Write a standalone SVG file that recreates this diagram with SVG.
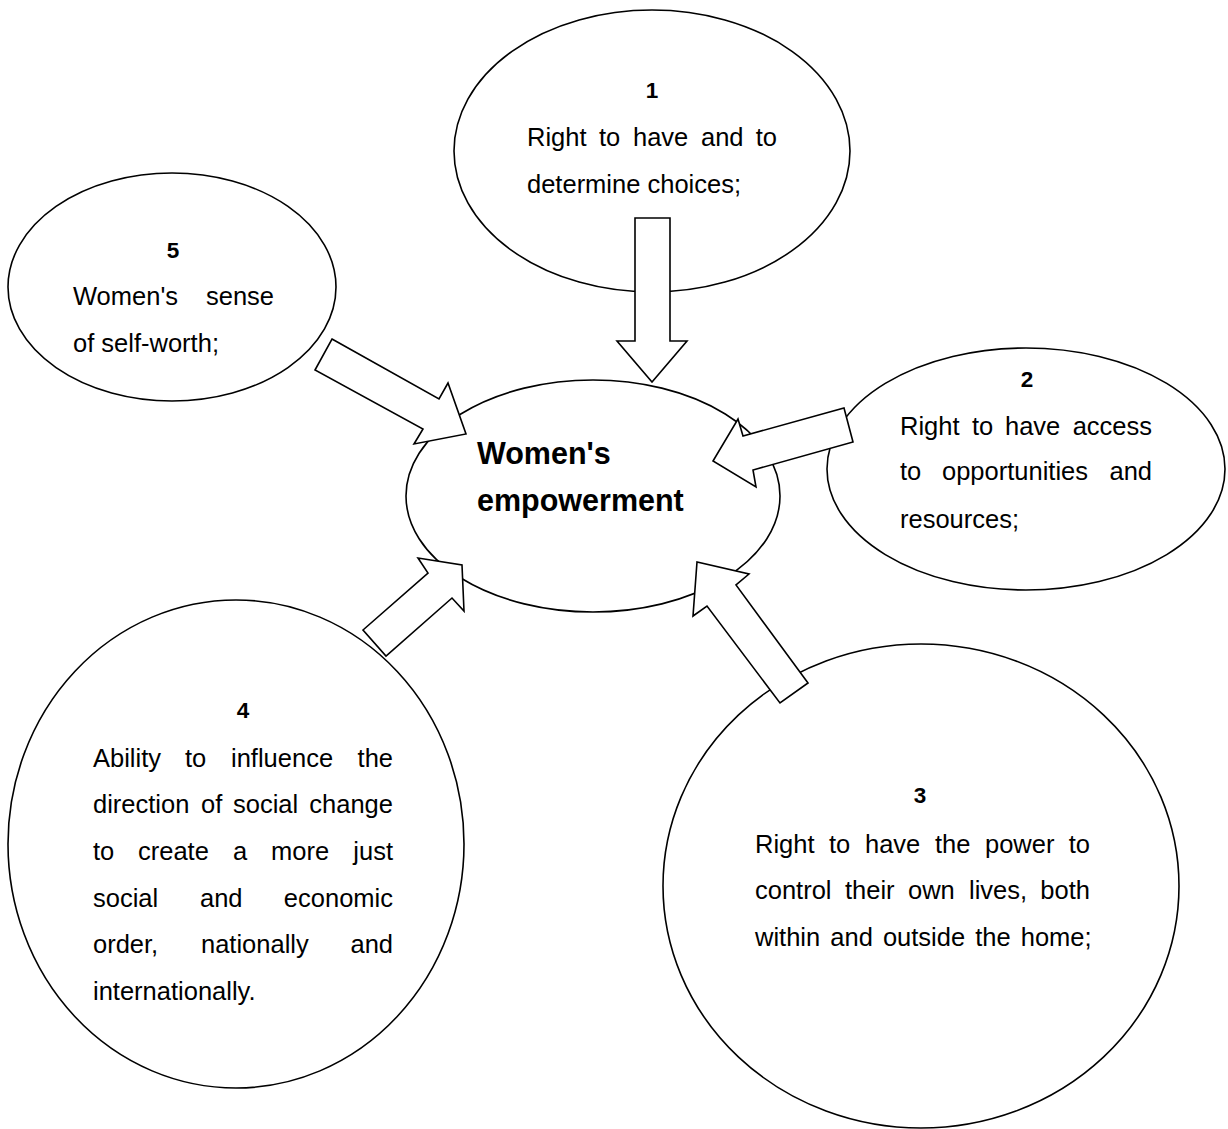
<svg xmlns="http://www.w3.org/2000/svg" width="1228" height="1129" viewBox="0 0 1228 1129">
<style>
.n{fill:#fff;stroke:#000;stroke-width:1.6}
.a{fill:#fff;stroke:#000;stroke-width:1.6;stroke-linejoin:miter}
text{font-family:"Liberation Sans",Arial,sans-serif;fill:#000}
.t{font-size:25.5px}
.h{font-size:22.5px;font-weight:bold;text-anchor:middle}
.c{font-size:30.5px;font-weight:bold}
</style>
<rect width="1228" height="1129" fill="#fff"/>
<g id="node-center">
<ellipse class="n" cx="593" cy="496" rx="187" ry="116"/>
<text class="c" x="477" y="464">Women's</text>
<text class="c" x="477" y="511">empowerment</text>
</g>
<g id="node-1">
<ellipse class="n" cx="652" cy="151" rx="198" ry="141"/>
<text class="h" x="652" y="98">1</text>
<text class="t" y="146"><tspan x="527">Right</tspan><tspan x="599">to</tspan><tspan x="633">have</tspan><tspan x="701">and</tspan><tspan x="777" text-anchor="end">to</tspan></text>
<text class="t" x="527" y="193">determine choices;</text>
</g>
<g id="node-5">
<ellipse class="n" cx="172" cy="287" rx="164" ry="114"/>
<text class="h" x="173" y="258">5</text>
<text class="t" y="305"><tspan x="73">Women's</tspan><tspan x="274" text-anchor="end">sense</tspan></text>
<text class="t" x="73" y="352">of self-worth;</text>
</g>
<g id="node-2">
<ellipse class="n" cx="1026" cy="469" rx="199" ry="121"/>
<text class="h" x="1027" y="387">2</text>
<text class="t" y="435"><tspan x="900">Right</tspan><tspan x="972">to</tspan><tspan x="1005">have</tspan><tspan x="1152" text-anchor="end">access</tspan></text>
<text class="t" y="480"><tspan x="900">to</tspan><tspan x="942">opportunities</tspan><tspan x="1152" text-anchor="end">and</tspan></text>
<text class="t" x="900" y="528">resources;</text>
</g>
<g id="node-4">
<ellipse class="n" cx="236" cy="844" rx="228" ry="244"/>
<text class="h" x="243" y="718">4</text>
<text class="t" y="767"><tspan x="93">Ability</tspan><tspan x="185">to</tspan><tspan x="231">influence</tspan><tspan x="393" text-anchor="end">the</tspan></text>
<text class="t" y="813"><tspan x="93">direction</tspan><tspan x="201">of</tspan><tspan x="233">social</tspan><tspan x="393" text-anchor="end">change</tspan></text>
<text class="t" y="860"><tspan x="93">to</tspan><tspan x="138">create</tspan><tspan x="233">a</tspan><tspan x="271">more</tspan><tspan x="393" text-anchor="end">just</tspan></text>
<text class="t" y="907"><tspan x="93">social</tspan><tspan x="200">and</tspan><tspan x="393" text-anchor="end">economic</tspan></text>
<text class="t" y="953"><tspan x="93">order,</tspan><tspan x="201">nationally</tspan><tspan x="393" text-anchor="end">and</tspan></text>
<text class="t" x="93" y="1000">internationally.</text>
</g>
<g id="node-3">
<ellipse class="n" cx="921" cy="886" rx="258" ry="242"/>
<text class="h" x="920" y="803">3</text>
<text class="t" y="853"><tspan x="755">Right</tspan><tspan x="829">to</tspan><tspan x="865">have</tspan><tspan x="935">the</tspan><tspan x="985">power</tspan><tspan x="1090" text-anchor="end">to</tspan></text>
<text class="t" y="899"><tspan x="755">control</tspan><tspan x="845">their</tspan><tspan x="908">own</tspan><tspan x="969">lives,</tspan><tspan x="1090" text-anchor="end">both</tspan></text>
<text class="t" x="755" y="946" word-spacing="3">within and outside the home;</text>
</g>
<g id="connectors">
<polygon class="a" points="635,218 670,218 670,341 687,341 652,382 617,341 635,341"/>
<polygon class="a" points="332,339 439,399 448,383 466,434 414,444 423,429 315,370"/>
<polygon class="a" points="844,408 853,442 753,470 756,487 713,461 738,419 743,436"/>
<polygon class="a" points="363,630 428,573 418,558 462,565 464,611 452,598 386,656"/>
<polygon class="a" points="808,683 736,585 749,574 697,562 693,616 707,606 780,703"/>
</g>
</svg>
